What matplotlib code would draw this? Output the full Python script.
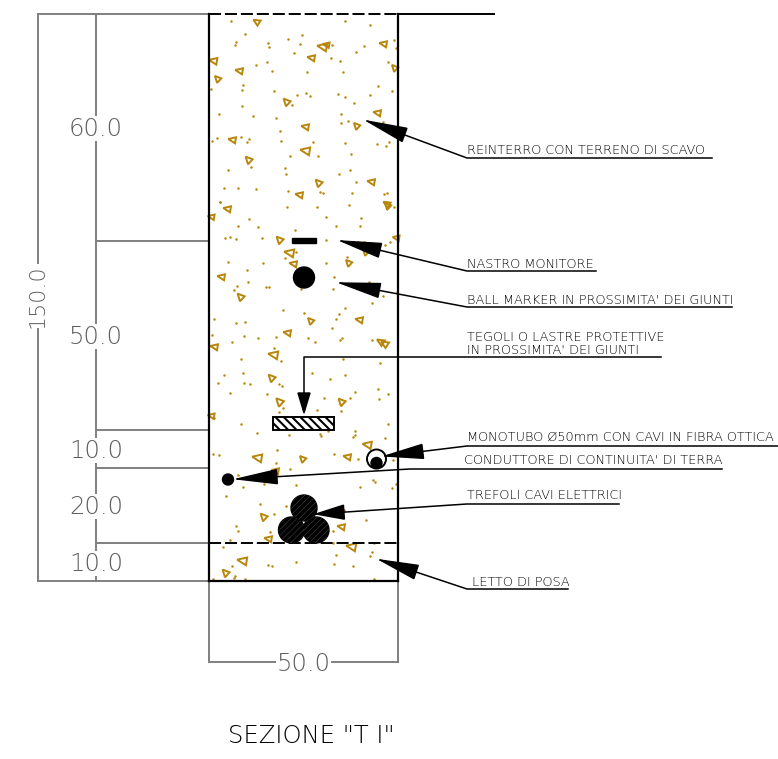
"""
Sezione di posa "T I" - trench cross section, all lengths in cm
"""
import numpy as np
import matplotlib
matplotlib.use("Agg")
import matplotlib.pyplot as plt
from matplotlib.patches import Circle, Polygon, Rectangle

# page geometry
W, H = 778, 759
X0, Y0 = 209, 14      # top left corner of the trench, pixels
SCALE = 3.78          # pixels per cm

# dimensions
layer_depths = [60.0, 50.0, 10.0, 20.0, 10.0]
layer_text_y = [128.5, 336.5, 450.5, 506.5, 563.5]
total_depth = 150.0
trench_width = 50.0
title = 'SEZIONE "T I"'

# leaders: label lines, arrow tip, knee, end of underline (pixels as read)
labels = [
    ["REINTERRO CON TERRENO DI SCAVO"],
    ["NASTRO MONITORE"],
    ["BALL MARKER IN PROSSIMITA' DEI GIUNTI"],
    ["MONOTUBO Ø50mm CON CAVI IN FIBRA OTTICA"],
    ["CONDUTTORE DI CONTINUITA' DI TERRA"],
    ["TREFOLI CAVI ELETTRICI"],
    ["LETTO DI POSA"],
]
label_x = [467, 467, 467, 467, 464, 467, 472]
label_y = [150, 264, 300, 437, 460, 495, 582]
tip_x = [367, 341, 340, 385, 237, 316, 380]
tip_y = [121, 241, 283, 456, 479, 514, 560]
knee_x = [467, 467, 467, 467, 410, 467, 467]
knee_y = [158, 271, 307, 446, 469, 504, 589]
end_x = [712, 596, 732, 778, 722, 619, 568]
head_len = [40, 40, 40, 38, 40, 28, 38]

# filling of the trench, positions (pixels)
tri_x = [257, 322, 326, 311, 383, 213, 395, 239, 218, 287, 377, 357, 305, 232, 305, 249, 319, 371, 299, 387,
         227, 211, 388, 280, 396, 289, 293, 349, 221, 241, 311, 359, 287, 214, 381, 273, 272, 366, 280, 342,
         211, 367, 257, 303, 347, 275, 264, 341, 268, 351, 242, 226, 385]
tri_y = [22, 47, 45, 58, 44, 61, 68, 71, 79, 102, 113, 126, 127, 140, 151, 160, 183, 182, 195, 204,
         209, 217, 206, 240, 238, 253, 264, 263, 277, 297, 321, 320, 333, 347, 342, 355, 378, 252, 402, 402,
         416, 445, 458, 459, 457, 471, 517, 527, 539, 547, 561, 573, 344]
tri_size = [4.5, 6.5, 4.5, 5, 5, 5.5, 4.5, 5, 4.5, 5, 5, 4.5, 5, 5, 6.5, 5, 5, 5, 5, 4.5,
            5, 4.5, 4.5, 5, 4.5, 6.5, 5, 4.5, 5, 5, 4.5, 5, 5, 5, 5, 6.5, 5, 4.5, 5.5, 5,
            4.5, 6, 6.5, 4.5, 5, 5, 5, 5, 5, 6.5, 6.5, 5, 5]
tri_kind = [0, -1, -1, -1, -1, -1, 1, -1, 1, 1, -1, 1, -1, -1, -1, 1, 1, -1, -1, 0,
            -1, -1, 1, 1, -1, -1, -1, 1, -1, 1, 1, -1, -1, -1, 0, -1, 1, 1, 1, 1,
            -1, -1, -1, 1, -1, -1, 1, -1, -1, -1, -1, 1, 0]

dot_z2_x = [94, 435, 510, 136, 263, 307, 108, 104, 204, 208, 300, 396, 492, 582, 588, 468, 282, 393, 421, 565,
            167, 200, 217, 321, 430, 129, 126, 32, 222, 292, 318, 331, 414, 436, 510, 535, 575, 127, 275, 461,
            57, 160, 229, 422, 422, 445, 548, 241, 37, 51, 122, 147, 141, 242, 338, 434, 530, 558, 568, 269,
            355, 454, 152, 256, 85, 451, 257, 416, 467, 72, 115, 168, 265, 360, 369, 456, 552, 562, 61]
dot_z2_y = [48, 47, 60, 87, 101, 91, 111, 121, 114, 125, 117, 121, 124, 104, 128, 140, 145, 160, 167, 172,
            181, 171, 197, 200, 201, 241, 255, 252, 259, 269, 263, 272, 266, 275, 270, 243, 258, 302, 299, 294,
            327, 334, 339, 328, 354, 348, 351, 378, 408, 400, 395, 403, 412, 407, 411, 413, 418, 423, 411, 452,
            454, 447, 486, 488, 495, 496, 507, 508, 530, 549, 549, 552, 558, 560, 564, 564, 567, 565, 590]
dot_z3_x = [61, 262, 350, 448, 582, 379, 482, 148, 115, 175, 409, 479, 286, 75, 90, 109, 186, 379, 475, 491,
            556, 571, 289, 255, 442, 85, 189, 379, 141, 145, 403, 112, 103, 198, 207, 303, 398, 508, 549, 590,
            516, 249, 435, 417, 312, 43, 407, 109, 134, 397, 37, 132, 173, 229, 325, 345, 421, 427, 517, 97,
            223, 243, 124, 428, 540, 72, 129, 336, 436, 390, 55, 133, 151, 237, 247, 465, 535, 565, 89, 202,
            373, 451, 536]
dot_z3_y = [5, 20, 20, 16, 20, 50, 55, 57, 78, 80, 77, 79, 90, 114, 110, 118, 114, 121, 125, 127,
            134, 127, 156, 174, 170, 186, 190, 188, 211, 246, 232, 258, 271, 262, 262, 266, 268, 247, 289, 276,
            308, 329, 324, 341, 338, 356, 356, 368, 365, 384, 404, 408, 414, 411, 414, 426, 419, 413, 421, 425,
            444, 483, 477, 478, 490, 524, 518, 520, 524, 538, 549, 549, 552, 552, 557, 575, 567, 583, 579, 582,
            594, 594, 596]
dot_z1_x = [248, 236, 351, 422, 43, 122, 564, 171, 267, 360, 363, 384, 465, 465, 460, 555, 231, 38, 58, 403,
            474, 578, 229, 271, 115, 193, 289, 130, 520, 526, 481, 577, 587, 77, 181, 259, 223, 431, 498, 109,
            115, 211, 398, 295, 303, 91, 70, 400, 523, 408, 516, 511, 95, 205, 217, 288, 403, 460, 106, 102,
            39, 135, 521]
dot_z1_y = [25, 37, 29, 32, 55, 72, 71, 100, 104, 101, 108, 92, 92, 104, 111, 115, 151, 161, 165, 161,
            177, 180, 189, 207, 225, 251, 254, 260, 240, 245, 261, 265, 252, 287, 313, 319, 343, 329, 359, 379,
            393, 396, 392, 389, 397, 419, 440, 429, 428, 464, 456, 467, 497, 494, 497, 487, 493, 498, 528, 534,
            537, 538, 538]

BLACK = "#000000"
GREY = "#808080"
DIMTEXT = "#5f5f5f"
OCHRE = "#b8860b"
TEXT = "#000000"
THIN = 200

# outline of a stone, for size 5, by kind
TRI_SHAPES = {
    -1: np.array([(-3.7, -1.0), (4.0, -2.7), (3.0, 3.3)]),
    0: np.array([(-4.0, -2.5), (4.0, -1.5), (0.5, 4.0)]),
    1: np.array([(-3.4, -3.4), (3.6, -0.7), (-1.0, 4.3)]),
}


def cx(px):
    return (np.asarray(px, dtype=float) - X0) / SCALE


def cy(py):
    return (np.asarray(py, dtype=float) - Y0) / SCALE


plt.rcParams["font.family"] = ["DejaVu Sans"]
plt.rcParams["hatch.linewidth"] = 1.5

fig = plt.figure(figsize=(W / 100, H / 100), dpi=100)
ax = fig.add_axes([0, 0, 1, 1])
ax.set_xlim(cx(0), cx(W))
ax.set_ylim(cy(H), cy(0))
ax.axis("off")

# filling
dot_x = np.concatenate([200 + np.array(dot_z2_x) / 3, 200 + np.array(dot_z3_x) / 3, 200 + np.array(dot_z1_x) / 3])
dot_y = np.concatenate([5 + np.array(dot_z2_y) / 3, 200 + np.array(dot_z3_y) / 3, 400 + np.array(dot_z1_y) / 3])
ax.scatter(cx(dot_x), cy(dot_y), s=3.2, color=OCHRE, linewidths=0, zorder=1)
for x, y, r, kind in zip(tri_x, tri_y, tri_size, tri_kind):
    shape = TRI_SHAPES[kind] * r / 5
    ax.add_patch(Polygon(np.column_stack([cx(x + shape[:, 0]), cy(y + shape[:, 1])]), closed=True,
                         fill=False, edgecolor=OCHRE, linewidth=1.4, zorder=1))

# dimension lines
depths = np.concatenate([[0], np.cumsum(layer_depths)])
dim_x1 = cx(96)
dim_x2 = cx(38)
ax.plot([dim_x2, 0], [0, 0], color=GREY, lw=1.4, zorder=2)
ax.plot([dim_x2, 0], [total_depth, total_depth], color=GREY, lw=1.4, zorder=2)
for d in depths[1:-1]:
    ax.plot([dim_x1, 0], [d, d], color=GREY, lw=1.4, zorder=2)
ax.plot([dim_x1, dim_x1], [0, total_depth], color=GREY, lw=1.4, zorder=2)
ax.plot([dim_x2, dim_x2], [0, total_depth], color=GREY, lw=1.4, zorder=2)
for val, ty in zip(layer_depths, layer_text_y):
    ax.text(dim_x1, cy(ty), f"{val:.1f}", color=DIMTEXT, fontsize=17.5, fontweight=THIN, ha="center", va="center",
            bbox=dict(facecolor="white", edgecolor="none", pad=0.2), zorder=3)
ax.text(dim_x2, cy(296), f"{total_depth:.1f}", color=DIMTEXT, fontsize=16, fontweight=THIN, rotation=90,
        ha="center", va="center", bbox=dict(facecolor="white", edgecolor="none", pad=0.2), zorder=3)

bot = cy(662)
ax.plot([0, 0], [total_depth, bot], color=GREY, lw=1.4, zorder=2)
ax.plot([trench_width, trench_width], [total_depth, bot], color=GREY, lw=1.4, zorder=2)
ax.plot([0, trench_width], [bot, bot], color=GREY, lw=1.4, zorder=2)
ax.text(trench_width / 2, cy(663.5), f"{trench_width:.1f}", color=DIMTEXT, fontsize=17.5, fontweight=THIN,
        ha="center", va="center", bbox=dict(facecolor="white", edgecolor="none", pad=0.2), zorder=3)

# trench outline
ax.plot([0, 0], [0, total_depth], color=BLACK, lw=1.6, zorder=4)
ax.plot([trench_width, trench_width], [0, total_depth], color=BLACK, lw=1.6, zorder=4)
ax.plot([0, trench_width], [total_depth, total_depth], color=BLACK, lw=1.6, zorder=4)
ax.plot([0, trench_width], [0, 0], color=BLACK, lw=1.4, dashes=(6.2, 2), dash_capstyle="butt", zorder=4)
ax.plot([0, trench_width], [depths[-2], depths[-2]], color=BLACK, lw=1.4, dashes=(6.2, 2), dash_capstyle="butt", zorder=4)
ax.plot([trench_width, cx(494)], [0, 0], color=BLACK, lw=1.4, zorder=4)

# cables and pipes in the section
ax.add_patch(Rectangle((cx(292), cy(238)), 24 / SCALE, 5 / SCALE, color=BLACK, zorder=5))
ax.add_patch(Circle((cx(304), cy(277.5)), 10.5 / SCALE, color=BLACK, zorder=5))
ax.add_patch(Rectangle((cx(273), cy(417)), 61 / SCALE, 13 / SCALE, facecolor="white", edgecolor=BLACK,
                       hatch="\\\\\\\\", linewidth=1.4, zorder=5))
ax.add_patch(Circle((cx(376.5), cy(459)), 9.5 / SCALE, facecolor="white", edgecolor=BLACK, linewidth=1.4, zorder=5))
ax.add_patch(Circle((cx(376.5), cy(463)), 5.5 / SCALE, color=BLACK, zorder=6))
ax.add_patch(Circle((cx(228), cy(479.5)), 5.5 / SCALE, color=BLACK, zorder=5))

# three phase bundle, black with a fine grey hatch
for px, py in zip([304, 291.5, 316], [508, 530, 530]):
    c = Circle((cx(px), cy(py)), 13 / SCALE, color=BLACK, zorder=5)
    ax.add_patch(c)
    for off in np.arange(-24, 25, 6):
        ln, = ax.plot(cx([px - 16 + off, px + 16 + off]), cy([py + 16, py - 16]), color="#4a4a4a", lw=0.35, zorder=6)
        ln.set_clip_path(c)


def arrow_head(x0, y0, x1, y1, length, width):
    # filled head with its tip at x0, y0, pointing away from x1, y1
    d = np.array([x1 - x0, y1 - y0], dtype=float)
    d /= np.hypot(*d)
    n = np.array([-d[1], d[0]])
    base = np.array([x0, y0]) + d * length
    return [(x0, y0), tuple(base + n * width / 2), tuple(base - n * width / 2)]


# leaders
for lines, lx, ly, tx, ty, kx, ky, ex, hl in zip(labels, label_x, label_y, tip_x, tip_y,
                                                 knee_x, knee_y, end_x, head_len):
    ax.plot(cx([tx, kx, ex]), cy([ty, ky, ky]), color=BLACK, lw=1.1, zorder=7)
    pts = arrow_head(tx, ty, kx, ky, hl, 14)
    ax.add_patch(Polygon([(cx(a), cy(b)) for a, b in pts], color=BLACK, zorder=7))
    ax.text(cx(lx), cy(ly), "\n".join(lines), color=TEXT, fontsize=9.25, fontweight=THIN, ha="left", va="center", zorder=8)

# protective tiles leader, it has a square knee
ax.plot(cx([661, 304, 304]), cy([357, 357, 400]), color=BLACK, lw=1.1, zorder=7)
pts = arrow_head(304, 413, 304, 357, 20, 12)
ax.add_patch(Polygon([(cx(a), cy(b)) for a, b in pts], color=BLACK, zorder=7))
ax.text(cx(467), cy(337), "TEGOLI O LASTRE PROTETTIVE", color=TEXT, fontsize=9.25, fontweight=THIN, ha="left", va="center", zorder=8)
ax.text(cx(467), cy(350), "IN PROSSIMITA' DEI GIUNTI", color=TEXT, fontsize=9.25, fontweight=THIN, ha="left", va="center", zorder=8)

ax.text(cx(228), cy(736), title, color="#000000", fontsize=17.5, fontweight=THIN, ha="left", va="center")

fig.savefig("out.png", dpi=100)
